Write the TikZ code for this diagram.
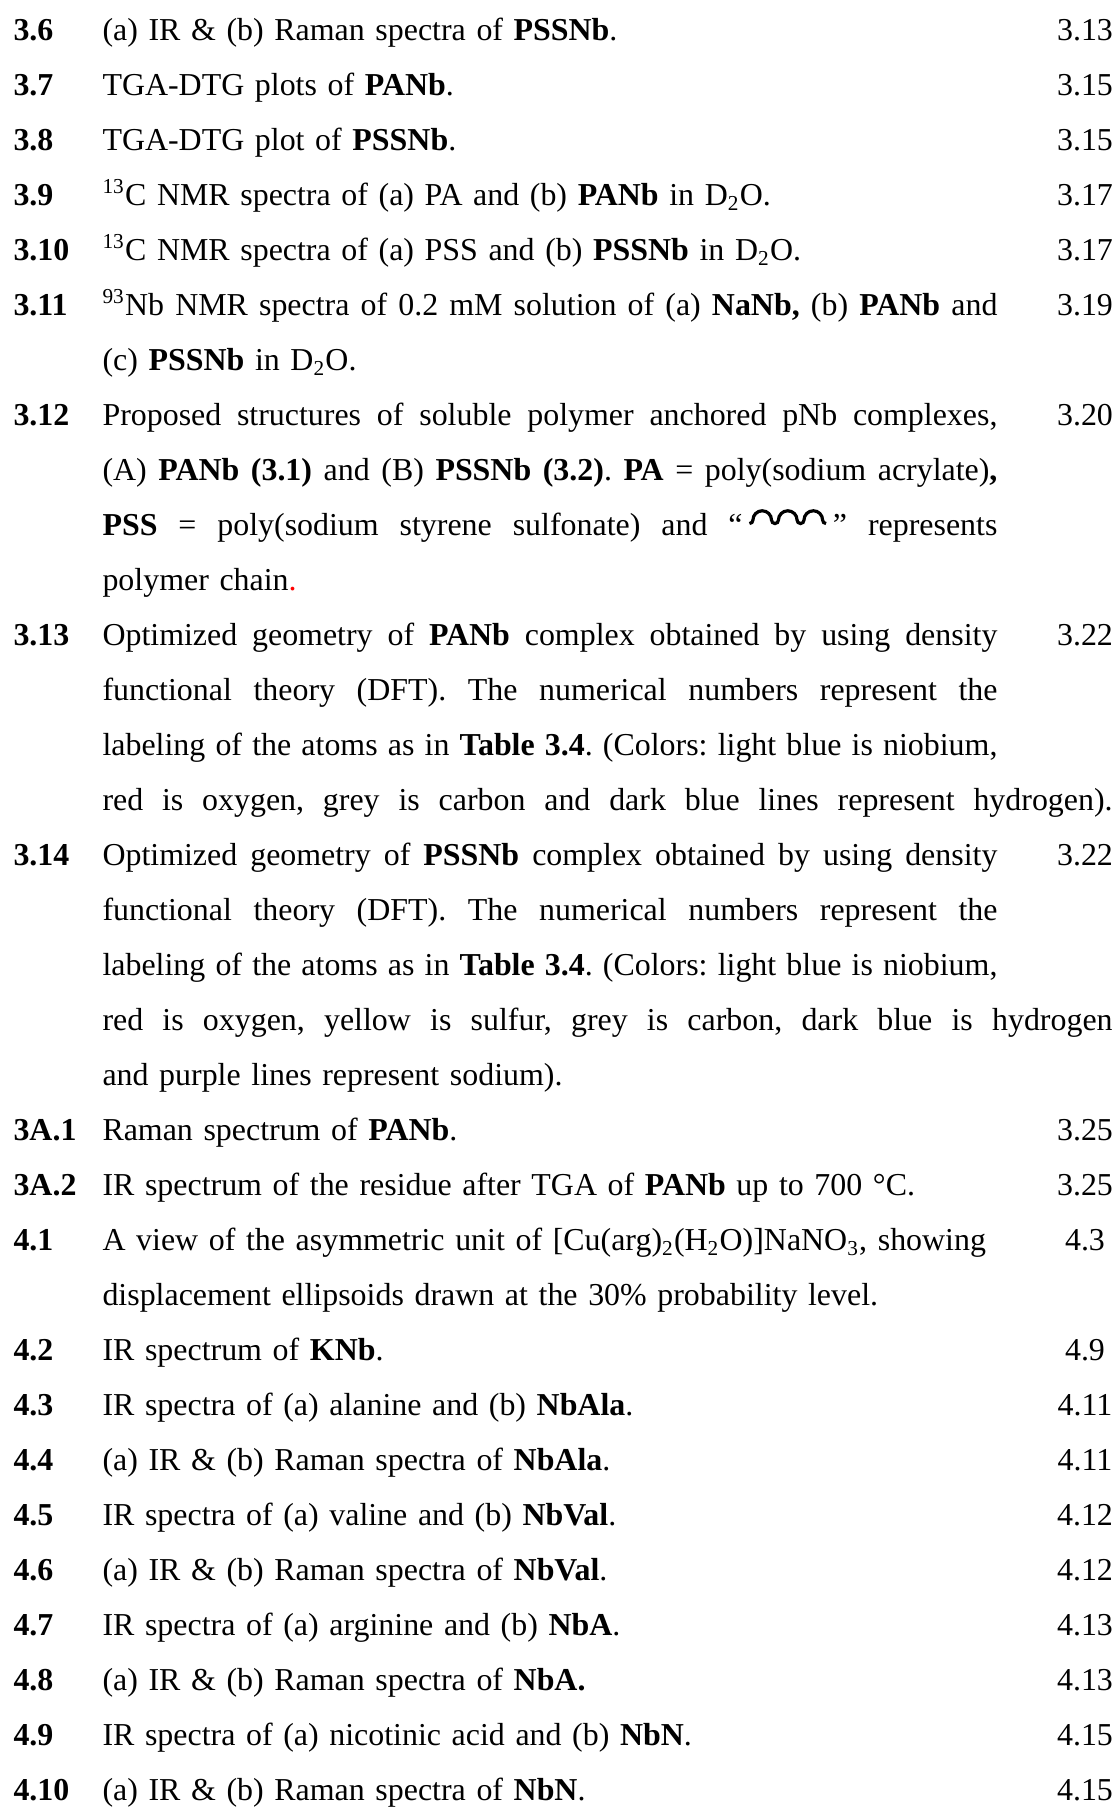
\documentclass[tikz,border=0pt]{standalone}
\usepackage{fontspec}
\setmainfont{Liberation Serif}
\usepackage{xcolor}
\usepackage{tikz}
\usetikzlibrary{positioning}

\newlength{\linew}
\setlength{\linew}{336.5pt}
\newlength{\widew}
\setlength{\widew}{379.8pt}
\newcommand{\jline}[1]{\makebox[\linew][s]{\spaceskip=0.25em plus 1fil\relax #1}}
\newcommand{\wline}[1]{\makebox[\widew][s]{\spaceskip=0.25em plus 1fil\relax #1}}
\newcommand{\polywave}{\tikz[baseline=0pt,x=1pt,y=1pt]\draw[line width=1.2pt]
    (0,4.5) arc[start angle=270,end angle=360,radius=1.3]
    arc[start angle=180,end angle=0,radius=3.5] arc[start angle=180,end angle=360,radius=1.3]
    arc[start angle=180,end angle=0,radius=3.5] arc[start angle=180,end angle=360,radius=1.3]
    arc[start angle=180,end angle=0,radius=3.5] arc[start angle=180,end angle=270,radius=1.3];}
\frenchspacing

\tikzset{
    numlbl/.style={anchor=base west,inner sep=0pt,font=\fontsize{12}{20.68}\selectfont\bfseries},
    entrytxt/.style={anchor=base west,inner sep=0pt,align=left,text width=\linew},
    pagelbl/.style={anchor=base,inner sep=0pt}
}

\begin{document}
\begin{tikzpicture}[x=0.376pt,y=-0.376pt,font=\fontsize{12}{20.68}\selectfont]
    \useasboundingbox (0,0) rectangle (1118,1809);

    % chapter 3
    \node[numlbl] (n36) at (13,40.5) {3.6};
    \node[entrytxt] (t36) at (102,40.5) {(a) IR \& (b) Raman spectra of \textbf{PSSNb}.};
    \node[pagelbl] (p36) at (1085,40.5) {3.13};

    \node[numlbl] (n37) at (13,95.5) {3.7};
    \node[entrytxt] (t37) at (102,95.5) {TGA-DTG plots of \textbf{PANb}.};
    \node[pagelbl] (p37) at (1085,95.5) {3.15};

    \node[numlbl] (n38) at (13,150.5) {3.8};
    \node[entrytxt] (t38) at (102,150.5) {TGA-DTG plot of \textbf{PSSNb}.};
    \node[pagelbl] (p38) at (1085,150.5) {3.15};

    \node[numlbl] (n39) at (13,205.5) {3.9};
    \node[entrytxt] (t39) at (102,205.5) {\textsuperscript{13}C NMR spectra of (a) PA and (b) \textbf{PANb} in D\textsubscript{2}O.};
    \node[pagelbl] (p39) at (1085,205.5) {3.17};

    \node[numlbl] (n310) at (13,260.5) {3.10};
    \node[entrytxt] (t310) at (102,260.5) {\textsuperscript{13}C NMR spectra of (a) PSS and (b) \textbf{PSSNb} in D\textsubscript{2}O.};
    \node[pagelbl] (p310) at (1085,260.5) {3.17};

    \node[numlbl] (n311) at (13,315.5) {3.11};
    \node[entrytxt] (t311) at (102,315.5) {\jline{\textsuperscript{93}Nb NMR spectra of 0.2 mM solution of (a) \textbf{NaNb,} (b) \textbf{PANb} and}\\
        \mbox{(c) \textbf{PSSNb} in D\textsubscript{2}O.}};
    \node[pagelbl] (p311) at (1085,315.5) {3.19};

    \node[numlbl] (n312) at (13,425.5) {3.12};
    \node[entrytxt] (t312) at (102,425.5) {\jline{Proposed structures of soluble polymer anchored pNb complexes,}\\
        \jline{(A) \textbf{PANb (3.1)} and (B) \textbf{PSSNb (3.2)}. \textbf{PA} = poly(sodium acrylate)\textbf{,}}\\
        \jline{\textbf{PSS} = poly(sodium styrene sulfonate) and ``\,\polywave\,'' represents}\\
        \mbox{polymer chain{\color{red}.}}};
    \node[pagelbl] (p312) at (1085,425.5) {3.20};

    \node[numlbl] (n313) at (13,645.5) {3.13};
    \node[entrytxt] (t313) at (102,645.5) {\jline{Optimized geometry of \textbf{PANb} complex obtained by using density}\\
        \jline{functional theory (DFT). The numerical numbers represent the}\\
        \jline{labeling of the atoms as in \textbf{Table 3.4}. (Colors: light blue is niobium,}\\
        \wline{red is oxygen, grey is carbon and dark blue lines represent hydrogen).}};
    \node[pagelbl] (p313) at (1085,645.5) {3.22};

    \node[numlbl] (n314) at (13,865.5) {3.14};
    \node[entrytxt] (t314) at (102,865.5) {\jline{Optimized geometry of \textbf{PSSNb} complex obtained by using density}\\
        \jline{functional theory (DFT). The numerical numbers represent the}\\
        \jline{labeling of the atoms as in \textbf{Table 3.4}. (Colors: light blue is niobium,}\\
        \wline{red is oxygen, yellow is sulfur, grey is carbon, dark blue is hydrogen}\\
        \mbox{and purple lines represent sodium).}};
    \node[pagelbl] (p314) at (1085,865.5) {3.22};

    % appendix 3A
    \node[numlbl] (n3a1) at (13,1140.5) {3A.1};
    \node[entrytxt] (t3a1) at (102,1140.5) {Raman spectrum of \textbf{PANb}.};
    \node[pagelbl] (p3a1) at (1085,1140.5) {3.25};

    \node[numlbl] (n3a2) at (13,1195.5) {3A.2};
    \node[entrytxt] (t3a2) at (102,1195.5) {\mbox{IR spectrum of the residue after TGA of \textbf{PANb} up to 700 °C.}};
    \node[pagelbl] (p3a2) at (1085,1195.5) {3.25};

    % chapter 4
    \node[numlbl] (n41) at (13,1250.5) {4.1};
    \node[entrytxt] (t41) at (102,1250.5) {\mbox{A view of the asymmetric unit of [Cu(arg)\textsubscript{2}(H\textsubscript{2}O)]NaNO\textsubscript{3}, showing}\\
        \mbox{displacement ellipsoids drawn at the 30\% probability level.}};
    \node[pagelbl] (p41) at (1085,1250.5) {4.3};

    \node[numlbl] (n42) at (13,1360.5) {4.2};
    \node[entrytxt] (t42) at (102,1360.5) {IR spectrum of \textbf{KNb}.};
    \node[pagelbl] (p42) at (1085,1360.5) {4.9};

    \node[numlbl] (n43) at (13,1415.5) {4.3};
    \node[entrytxt] (t43) at (102,1415.5) {IR spectra of (a) alanine and (b) \textbf{NbAla}.};
    \node[pagelbl] (p43) at (1085,1415.5) {4.11};

    \node[numlbl] (n44) at (13,1470.5) {4.4};
    \node[entrytxt] (t44) at (102,1470.5) {(a) IR \& (b) Raman spectra of \textbf{NbAla}.};
    \node[pagelbl] (p44) at (1085,1470.5) {4.11};

    \node[numlbl] (n45) at (13,1525.5) {4.5};
    \node[entrytxt] (t45) at (102,1525.5) {IR spectra of (a) valine and (b) \textbf{NbVal}.};
    \node[pagelbl] (p45) at (1085,1525.5) {4.12};

    \node[numlbl] (n46) at (13,1580.5) {4.6};
    \node[entrytxt] (t46) at (102,1580.5) {(a) IR \& (b) Raman spectra of \textbf{NbVal}.};
    \node[pagelbl] (p46) at (1085,1580.5) {4.12};

    \node[numlbl] (n47) at (13,1635.5) {4.7};
    \node[entrytxt] (t47) at (102,1635.5) {IR spectra of (a) arginine and (b) \textbf{NbA}.};
    \node[pagelbl] (p47) at (1085,1635.5) {4.13};

    \node[numlbl] (n48) at (13,1690.5) {4.8};
    \node[entrytxt] (t48) at (102,1690.5) {(a) IR \& (b) Raman spectra of \textbf{NbA.}};
    \node[pagelbl] (p48) at (1085,1690.5) {4.13};

    \node[numlbl] (n49) at (13,1745.5) {4.9};
    \node[entrytxt] (t49) at (102,1745.5) {IR spectra of (a) nicotinic acid and (b) \textbf{NbN}.};
    \node[pagelbl] (p49) at (1085,1745.5) {4.15};

    \node[numlbl] (n410) at (13,1800.5) {4.10};
    \node[entrytxt] (t410) at (102,1800.5) {(a) IR \& (b) Raman spectra of \textbf{NbN}.};
    \node[pagelbl] (p410) at (1085,1800.5) {4.15};
\end{tikzpicture}
\end{document}
